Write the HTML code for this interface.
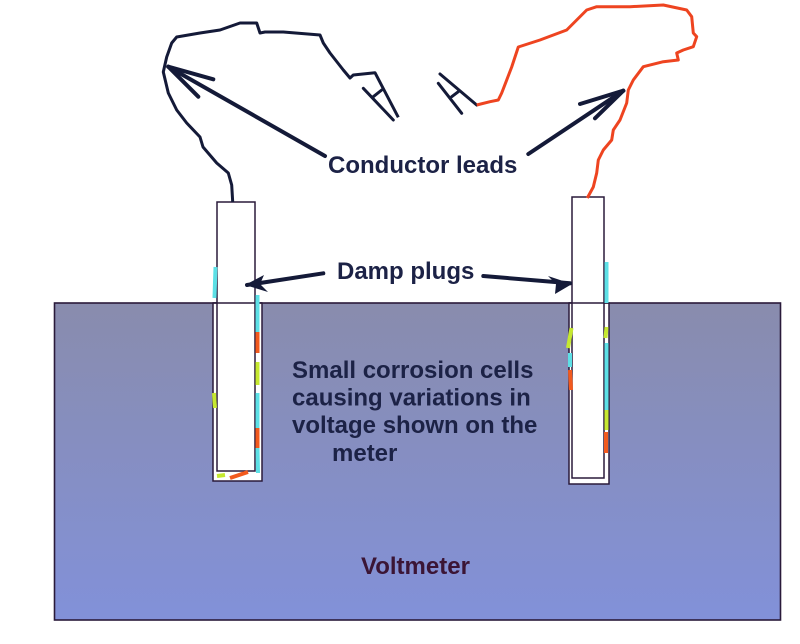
<!DOCTYPE html>
<html><head><meta charset="utf-8"><style>
html,body{margin:0;padding:0;background:#fff;}
svg{display:block;}
text{font-family:"Liberation Sans",Arial,sans-serif;font-weight:bold;font-size:24px;}
</style></head><body>
<svg width="800" height="644" viewBox="0 0 800 644" xmlns="http://www.w3.org/2000/svg">
<defs>
<linearGradient id="g" x1="0" y1="0" x2="0" y2="1">
<stop offset="0" stop-color="#898cad"/>
<stop offset="1" stop-color="#8291d9"/>
</linearGradient>
</defs>
<rect x="54.5" y="303" width="726" height="317" fill="url(#g)" stroke="#2a1a3a" stroke-width="1.6"/>

<!-- holes -->
<rect x="213" y="303" width="49" height="178" fill="#fff" stroke="#2a1a3a" stroke-width="1.5"/>
<rect x="569" y="303" width="40" height="181" fill="#fff" stroke="#2a1a3a" stroke-width="1.5"/>
<!-- probes -->
<rect x="217" y="202" width="38" height="269" fill="#fff" stroke="#2a1a3a" stroke-width="1.5"/>
<rect x="572" y="197" width="32" height="281" fill="#fff" stroke="#2a1a3a" stroke-width="1.5"/>
<line x1="213" y1="303" x2="262" y2="303" stroke="#2a1a3a" stroke-width="1.5"/>
<line x1="569" y1="303" x2="609" y2="303" stroke="#2a1a3a" stroke-width="1.5"/>

<!-- coloured corrosion bits left -->
<g stroke-width="4" stroke-linecap="butt" fill="none">
<line x1="215.5" y1="267" x2="214.5" y2="298" stroke="#5de0e6"/>
<line x1="257.5" y1="295" x2="257.5" y2="332" stroke="#5de0e6"/>
<line x1="257.5" y1="332" x2="257.5" y2="353" stroke="#f25a1e"/>
<line x1="257.5" y1="362" x2="257.5" y2="385" stroke="#c6e830"/>
<line x1="257.5" y1="393" x2="257.5" y2="428" stroke="#5de0e6"/>
<line x1="257.5" y1="428" x2="257.5" y2="448" stroke="#f25a1e"/>
<line x1="257.5" y1="448" x2="258" y2="473" stroke="#5de0e6"/>
<line x1="214" y1="393" x2="215" y2="408" stroke="#c6e830"/>
<line x1="217" y1="476" x2="225" y2="475" stroke="#c6e830"/>
<line x1="230" y1="478" x2="248" y2="472" stroke="#f25a1e"/>
<!-- right -->
<line x1="606.5" y1="262" x2="606.5" y2="303" stroke="#5de0e6"/>
<line x1="571.5" y1="328" x2="568" y2="348" stroke="#c6e830"/>
<line x1="570" y1="353" x2="570" y2="367" stroke="#5de0e6"/>
<line x1="570" y1="370" x2="571" y2="390" stroke="#f25a1e"/>
<line x1="606.5" y1="327" x2="605.5" y2="338" stroke="#c6e830"/>
<line x1="606.5" y1="343" x2="606.5" y2="410" stroke="#5de0e6"/>
<line x1="606.5" y1="410" x2="606.5" y2="430" stroke="#c6e830"/>
<line x1="606" y1="432" x2="606" y2="453" stroke="#f25a1e"/>
</g>

<!-- black wire -->
<polyline fill="none" stroke="#141a38" stroke-width="3" stroke-linejoin="round" points="232.7,202 231.7,185 228.3,173 216.7,163 203,147 200,137 186.7,123 176.7,110 168.3,93 163.3,72 166.7,57 171.7,43 176.7,37 200,33 220,30 240,23 256.7,23 260,33 265,32 283.3,32 320,35 323.3,43 330,53 343.3,70 350,78 353.3,75 375,72.7 398.3,117.3"/>
<g stroke="#141a38" stroke-width="3" stroke-linecap="round">
<line x1="363.3" y1="88.3" x2="393.3" y2="120"/>
<line x1="373.3" y1="96.7" x2="381.7" y2="90"/>
<line x1="440" y1="74" x2="476.7" y2="105"/>
<line x1="438.3" y1="83.3" x2="461.7" y2="113.3"/>
<line x1="451.7" y1="96.7" x2="458.3" y2="91.7"/>
</g>

<!-- red wire -->
<polyline fill="none" stroke="#ee4420" stroke-width="3" stroke-linejoin="round" points="476.7,105 490,101.7 498.3,100 501.7,93 511.7,67 518.3,47 540,40 566.7,30 586.7,10 596.7,6.7 630,6.7 663.3,5 686.7,10 691.7,16.7 693.3,33 696.7,36.7 693.3,46.7 683.3,50 676.7,53 678.3,60 663.3,61.7 643.3,66.7 633.3,80 628.3,90 626.7,103 620,120 613.3,130 611.7,140 603.3,150 598.3,160 596.7,173 593.3,187 587.3,198"/>

<!-- arrows -->
<g stroke="#141a38" stroke-width="4" stroke-linecap="round" fill="none">
<line x1="325" y1="156" x2="168.3" y2="66.7"/>
<line x1="168.3" y1="66.7" x2="213.3" y2="79.3"/>
<line x1="168.3" y1="66.7" x2="198.3" y2="96.7"/>
<line x1="528.3" y1="154" x2="623.3" y2="90.7"/>
<line x1="623.3" y1="90.7" x2="580" y2="104"/>
<line x1="623.3" y1="90.7" x2="595" y2="118.3"/>
<line x1="323.3" y1="273.3" x2="247" y2="285"/>
<line x1="483.3" y1="276" x2="570" y2="283.3"/>
</g>
<polygon fill="#141a38" points="245,285 264,275 260,284 268,292"/>
<polygon fill="#141a38" points="572,284 548,276 556,284 555,294"/>

<!-- labels -->
<text x="328" y="173" fill="#1c2246">Conductor leads</text>
<text x="337" y="279" fill="#1c2246">Damp plugs</text>
<text fill="#1c2246"><tspan x="292" y="378">Small corrosion cells</tspan><tspan x="292" y="405.5">causing variations in</tspan><tspan x="292" y="433">voltage shown on the</tspan><tspan x="332" y="461">meter</tspan></text>
<text x="361" y="574" fill="#3b1535">Voltmeter</text>
</svg>
</body></html>
